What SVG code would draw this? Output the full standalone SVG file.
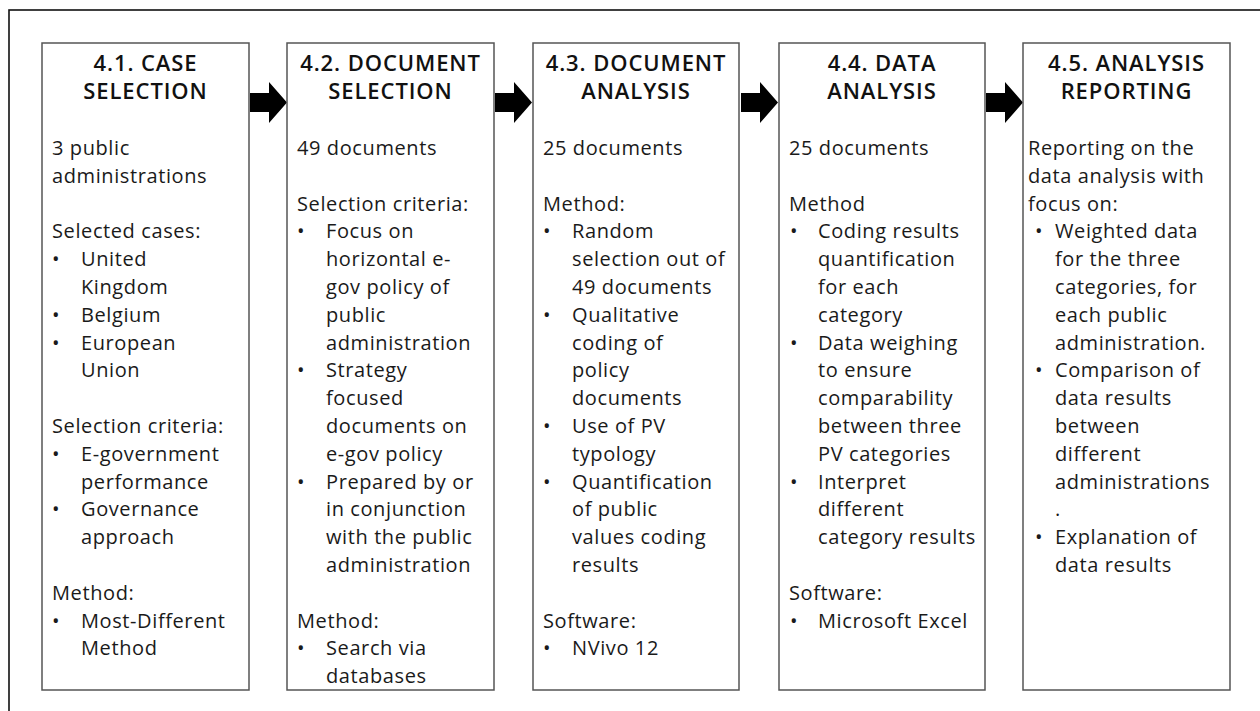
<svg xmlns="http://www.w3.org/2000/svg" width="1260" height="711" viewBox="0 0 1260 711">
<style>
.frame{fill:none;stroke:#111;stroke-width:1.6}
.box{fill:#fff;stroke:#555;stroke-width:1.5}
.h{font-family:"Open Sans","Noto Sans",sans-serif;font-size:22px;font-weight:600;letter-spacing:0.9px;fill:#111;text-anchor:middle}
.t{font-family:"Open Sans","Noto Sans",sans-serif;font-size:20px;letter-spacing:0.6px;fill:#1a1a1a}
.arrow{fill:#000}
</style>
<defs>
<path id="arr" d="M0,0 H19 V-11 L37,9.5 L19,30 V19 H0 Z"/>
</defs>
<rect class="frame" x="9" y="10" width="1270" height="720"/>
<g id="connectors">
<use href="#arr" class="arrow" x="250" y="93"/>
<use href="#arr" class="arrow" x="495" y="93"/>
<use href="#arr" class="arrow" x="741" y="93"/>
<use href="#arr" class="arrow" x="986" y="93"/>
</g>
<g id="case-selection">
<rect class="box" x="42" y="43" width="207" height="647"/>
<text class="h" x="145.5" y="71">4.1. CASE</text>
<text class="h" x="145.5" y="99">SELECTION</text>
<text class="t" x="52" y="155">3 public</text>
<text class="t" x="52" y="183">administrations</text>
<text class="t" x="52" y="238">Selected cases:</text>
<text class="t" x="52" y="266">•</text><text class="t" x="81" y="266">United</text>
<text class="t" x="81" y="294">Kingdom</text>
<text class="t" x="52" y="322">•</text><text class="t" x="81" y="322">Belgium</text>
<text class="t" x="52" y="350">•</text><text class="t" x="81" y="350">European</text>
<text class="t" x="81" y="377">Union</text>
<text class="t" x="52" y="433">Selection criteria:</text>
<text class="t" x="52" y="461">•</text><text class="t" x="81" y="461">E-government</text>
<text class="t" x="81" y="489">performance</text>
<text class="t" x="52" y="516">•</text><text class="t" x="81" y="516">Governance</text>
<text class="t" x="81" y="544">approach</text>
<text class="t" x="52" y="600">Method:</text>
<text class="t" x="52" y="628">•</text><text class="t" x="81" y="628">Most-Different</text>
<text class="t" x="81" y="655">Method</text>
</g>
<g id="document-selection">
<rect class="box" x="287" y="43" width="207" height="647"/>
<text class="h" x="390.5" y="71">4.2. DOCUMENT</text>
<text class="h" x="390.5" y="99">SELECTION</text>
<text class="t" x="297" y="155">49 documents</text>
<text class="t" x="297" y="211">Selection criteria:</text>
<text class="t" x="297" y="238">•</text><text class="t" x="326" y="238">Focus on</text>
<text class="t" x="326" y="266">horizontal e-</text>
<text class="t" x="326" y="294">gov policy of</text>
<text class="t" x="326" y="322">public</text>
<text class="t" x="326" y="350">administration</text>
<text class="t" x="297" y="377">•</text><text class="t" x="326" y="377">Strategy</text>
<text class="t" x="326" y="405">focused</text>
<text class="t" x="326" y="433">documents on</text>
<text class="t" x="326" y="461">e-gov policy</text>
<text class="t" x="297" y="489">•</text><text class="t" x="326" y="489">Prepared by or</text>
<text class="t" x="326" y="516">in conjunction</text>
<text class="t" x="326" y="544">with the public</text>
<text class="t" x="326" y="572">administration</text>
<text class="t" x="297" y="628">Method:</text>
<text class="t" x="297" y="655">•</text><text class="t" x="326" y="655">Search via</text>
<text class="t" x="326" y="683">databases</text>
</g>
<g id="document-analysis">
<rect class="box" x="533" y="43" width="206" height="647"/>
<text class="h" x="636" y="71">4.3. DOCUMENT</text>
<text class="h" x="636" y="99">ANALYSIS</text>
<text class="t" x="543" y="155">25 documents</text>
<text class="t" x="543" y="211">Method:</text>
<text class="t" x="543" y="238">•</text><text class="t" x="572" y="238">Random</text>
<text class="t" x="572" y="266">selection out of</text>
<text class="t" x="572" y="294">49 documents</text>
<text class="t" x="543" y="322">•</text><text class="t" x="572" y="322">Qualitative</text>
<text class="t" x="572" y="350">coding of</text>
<text class="t" x="572" y="377">policy</text>
<text class="t" x="572" y="405">documents</text>
<text class="t" x="543" y="433">•</text><text class="t" x="572" y="433">Use of PV</text>
<text class="t" x="572" y="461">typology</text>
<text class="t" x="543" y="489">•</text><text class="t" x="572" y="489">Quantification</text>
<text class="t" x="572" y="516">of public</text>
<text class="t" x="572" y="544">values coding</text>
<text class="t" x="572" y="572">results</text>
<text class="t" x="543" y="628">Software:</text>
<text class="t" x="543" y="655">•</text><text class="t" x="572" y="655">NVivo 12</text>
</g>
<g id="data-analysis">
<rect class="box" x="779" y="43" width="206" height="647"/>
<text class="h" x="882" y="71">4.4. DATA</text>
<text class="h" x="882" y="99">ANALYSIS</text>
<text class="t" x="789" y="155">25 documents</text>
<text class="t" x="789" y="211">Method</text>
<text class="t" x="790" y="238">•</text><text class="t" x="818" y="238">Coding results</text>
<text class="t" x="818" y="266">quantification</text>
<text class="t" x="818" y="294">for each</text>
<text class="t" x="818" y="322">category</text>
<text class="t" x="790" y="350">•</text><text class="t" x="818" y="350">Data weighing</text>
<text class="t" x="818" y="377">to ensure</text>
<text class="t" x="818" y="405">comparability</text>
<text class="t" x="818" y="433">between three</text>
<text class="t" x="818" y="461">PV categories</text>
<text class="t" x="790" y="489">•</text><text class="t" x="818" y="489">Interpret</text>
<text class="t" x="818" y="516">different</text>
<text class="t" x="818" y="544">category results</text>
<text class="t" x="789" y="600">Software:</text>
<text class="t" x="790" y="628">•</text><text class="t" x="818" y="628">Microsoft Excel</text>
</g>
<g id="analysis-reporting">
<rect class="box" x="1023" y="43" width="207" height="647"/>
<text class="h" x="1126.5" y="71">4.5. ANALYSIS</text>
<text class="h" x="1126.5" y="99">REPORTING</text>
<text class="t" x="1028" y="155">Reporting on the</text>
<text class="t" x="1028" y="183">data analysis with</text>
<text class="t" x="1028" y="211">focus on:</text>
<text class="t" x="1035" y="238">•</text><text class="t" x="1055" y="238">Weighted data</text>
<text class="t" x="1055" y="266">for the three</text>
<text class="t" x="1055" y="294">categories, for</text>
<text class="t" x="1055" y="322">each public</text>
<text class="t" x="1055" y="350">administration.</text>
<text class="t" x="1035" y="377">•</text><text class="t" x="1055" y="377">Comparison of</text>
<text class="t" x="1055" y="405">data results</text>
<text class="t" x="1055" y="433">between</text>
<text class="t" x="1055" y="461">different</text>
<text class="t" x="1055" y="489">administrations</text>
<text class="t" x="1055" y="516">.</text>
<text class="t" x="1035" y="544">•</text><text class="t" x="1055" y="544">Explanation of</text>
<text class="t" x="1055" y="572">data results</text>
</g>
</svg>
